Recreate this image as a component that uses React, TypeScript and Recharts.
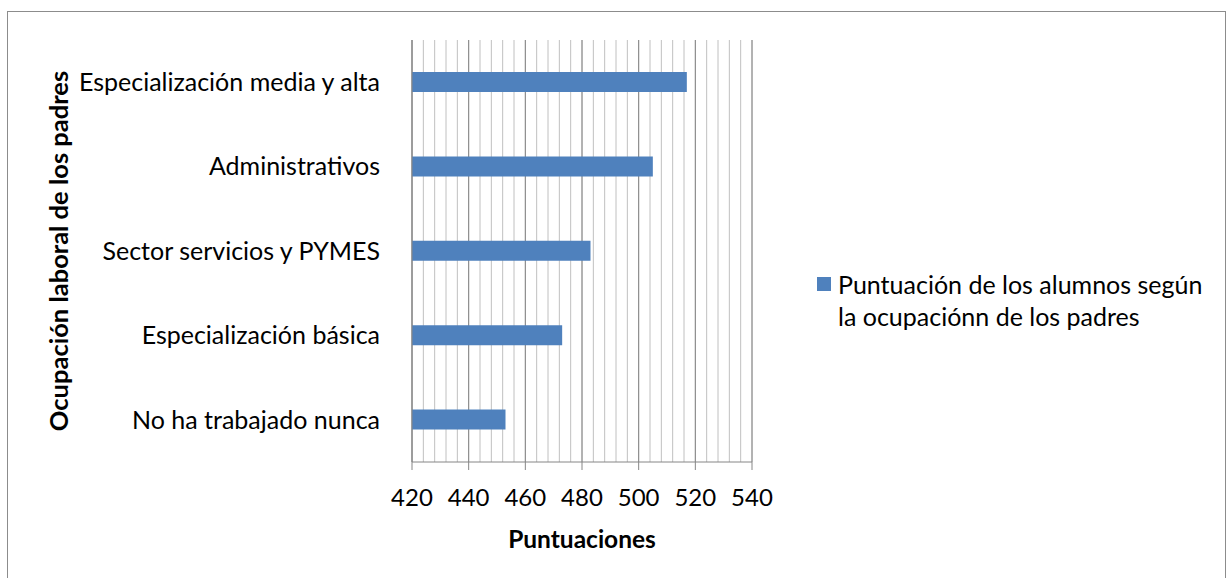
import React from "react";
import { BarChart, Bar, XAxis, YAxis, CartesianGrid, Legend, Label } from "recharts";

const categories = [
  "Especialización media y alta",
  "Administrativos",
  "Sector servicios y PYMES",
  "Especialización básica",
  "No ha trabajado nunca",
];
const scores = [517, 505, 483, 473, 453];
const majorTicks = [420, 440, 460, 480, 500, 520, 540];
const minorTicks = [
  420, 424, 428, 432, 436, 440, 444, 448, 452, 456, 460, 464, 468, 472, 476, 480,
  484, 488, 492, 496, 500, 504, 508, 512, 516, 520, 524, 528, 532, 536, 540,
];
const domain: [number, number] = [420, 540];
const seriesName = "Puntuación de los alumnos según la ocupaciónn de los padres";
const legendLines = ["Puntuación de los alumnos según", "la ocupaciónn de los padres"];
const xTitle = "Puntuaciones";
const yTitle = "Ocupación laboral de los padres";

const data = categories.map((name, i) => ({ name, value: scores[i] }));

const FONT = "Lato, 'Open Sans', sans-serif";
const AXIS = "#868686";

const minorGen = (props: any) => {
  const { xAxis, offset } = props;
  if (xAxis && typeof xAxis.scale === "function") {
    return minorTicks.map((t) => xAxis.scale(t));
  }
  return minorTicks.map((t) => offset.left + ((t - domain[0]) / (domain[1] - domain[0])) * offset.width);
};

const LegendContent = () => (
  <div style={{ fontFamily: FONT, fontSize: 25, color: "#000", lineHeight: "32px", whiteSpace: "nowrap" }}>
    <div style={{ display: "flex", alignItems: "center" }}>
      <span style={{ display: "inline-block", width: 14, height: 14, background: "#4F81BD", marginRight: 7 }} />
      <span>{legendLines[0]}</span>
    </div>
    <div style={{ paddingLeft: 21 }}>{legendLines[1]}</div>
  </div>
);

export default function App() {
  return (
    <div style={{ position: "absolute", left: 0, top: 0, width: 1227, height: 578, overflow: "hidden", background: "#fff" }}>
      <div style={{ position: "absolute", left: 7, top: 11, width: 1217, height: 600, border: "1px solid #8c8c8c" }} />
      <div style={{ position: "absolute", left: 0, top: 0 }}>
        <BarChart
          width={1227}
          height={578}
          data={data}
          layout="vertical"
          margin={{ top: 40, right: 475, bottom: 0, left: 0 }}
        >
          <CartesianGrid
            horizontal={false}
            stroke="#c0c0c0"
            strokeWidth={1}
            verticalCoordinatesGenerator={minorGen}
          />
          <CartesianGrid horizontal={false} stroke={AXIS} strokeWidth={1} />
          <XAxis
            type="number"
            domain={domain}
            ticks={majorTicks}
            interval={0}
            height={116}
            axisLine={{ stroke: AXIS }}
            tickLine={{ stroke: AXIS }}
            tickSize={8}
            tickMargin={19}
            tick={{ fill: "#000", fontSize: 24, fontFamily: FONT }}
          >
            <Label
              content={({ viewBox }: any) => (
                <text
                  x={viewBox.x + viewBox.width / 2}
                  y={548}
                  textAnchor="middle"
                  fontFamily={FONT}
                  fontSize={24.5}
                  fontWeight="bold"
                  fill="#000"
                >
                  {xTitle}
                </text>
              )}
            />
          </XAxis>
          <YAxis
            type="category"
            dataKey="name"
            width={412}
            axisLine={{ stroke: AXIS }}
            tickLine={false}
            tickMargin={26}
            tick={{ fill: "#000", fontSize: 25, fontFamily: FONT }}
          >
            <Label
              content={({ viewBox }: any) => (
                <text
                  x={68}
                  y={viewBox.y + viewBox.height / 2}
                  transform={`rotate(-90 68 ${viewBox.y + viewBox.height / 2})`}
                  textAnchor="middle"
                  fontFamily={FONT}
                  fontSize={25.5}
                  fontWeight="bold"
                  fill="#000"
                >
                  {yTitle}
                </text>
              )}
            />
          </YAxis>
          <Legend
            layout="vertical"
            align="center"
            verticalAlign="middle"
            content={<LegendContent />}
            wrapperStyle={{ left: 817, top: 268, width: 400 }}
          />
          <Bar dataKey="value" name={seriesName} fill="#4F81BD" barSize={20} isAnimationActive={false} />
        </BarChart>
      </div>
    </div>
  );
}
